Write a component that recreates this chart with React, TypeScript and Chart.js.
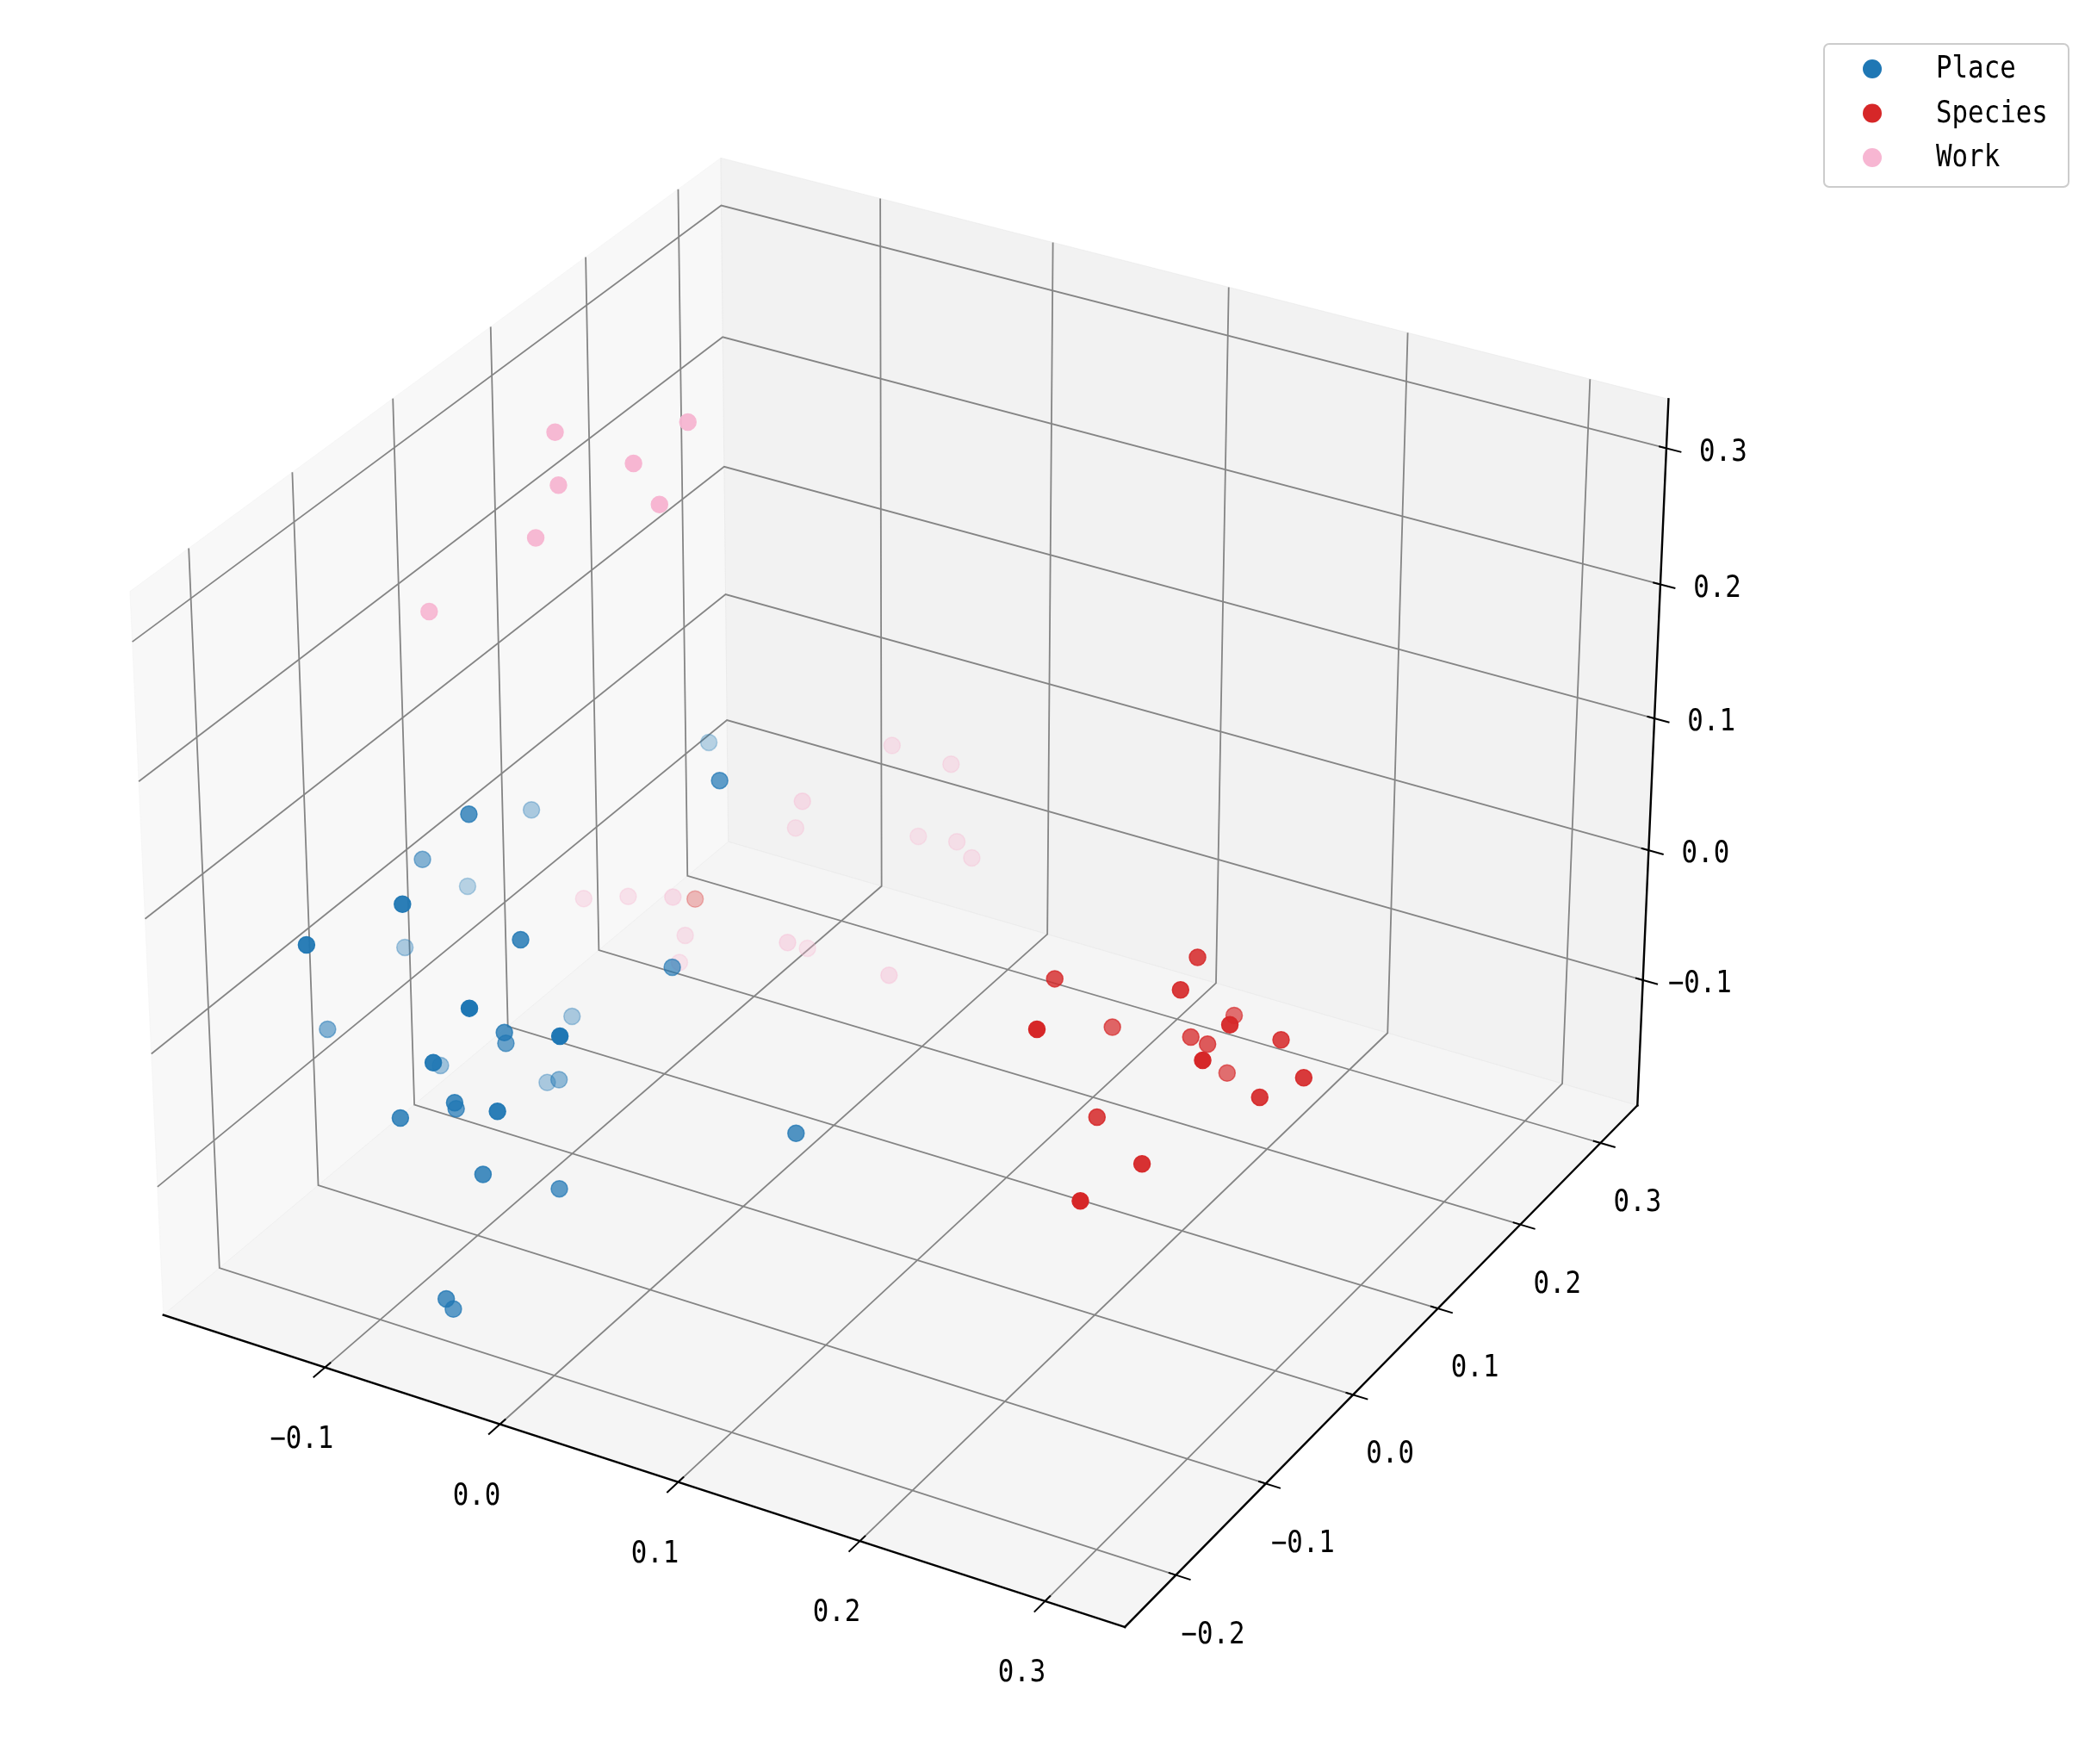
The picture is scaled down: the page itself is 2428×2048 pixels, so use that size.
import React, { useEffect, useRef } from "react";
import { Chart, registerables } from "chart.js";

Chart.register(...registerables);

// ---------------- data ----------------
const seriesNames = ["Place", "Species", "Work"];
const seriesColors = ["#1f77b4", "#d62728", "#f7b6d2"];

const X_LIMITS = [-0.194, 0.3425];
const Y_LIMITS = [-0.2555, 0.347];
const Z_LIMITS = [-0.198, 0.3357];

const xTicks = [-0.1, 0.0, 0.1, 0.2, 0.3];
const yTicks = [-0.2, -0.1, 0.0, 0.1, 0.2, 0.3];
const zTicks = [-0.1, 0.0, 0.1, 0.2, 0.3];

const placeX = [-0.0964, -0.1478, -0.1551, -0.1769, -0.0796, -0.1142, -0.1853, -0.0487, -0.0142, -0.1746, -0.0287, -0.1044, -0.0552, -0.0751, 0.0116, -0.0481, -0.1441, -0.1069, -0.0806, -0.0565, -0.0771, -0.0159, -0.0772, -0.0361, -0.0241, -0.0473, -0.054, -0.0902, -0.0064, 0.0787];
const placeY = [-0.1037, 0.0494, -0.0505, 0.032, -0.1999, -0.2349, -0.0195, -0.1383, -0.046, -0.1174, -0.2251, 0.0105, -0.1454, -0.1095, -0.2075, -0.2283, -0.0572, -0.0125, -0.0465, -0.1942, -0.1575, -0.2225, -0.2124, -0.2033, -0.1483, -0.2237, -0.2055, 0.1351, -0.0083, -0.0901];
const placeZ = [0.1246, 0.019, 0.0372, -0.0405, 0.1218, 0.0996, -0.06, 0.0708, 0.008, -0.0588, 0.0809, -0.0996, 0.0035, -0.0346, 0.0657, 0.0352, -0.1116, -0.1376, -0.1036, -0.0191, -0.055, 0.0086, -0.0276, -0.0587, -0.0996, -0.1442, -0.1666, 0.0425, 0.1279, -0.0524];

const speciesX = [-0.1189, 0.2306, 0.1624, 0.2383, 0.2098, 0.2736, 0.2059, 0.1704, 0.2156, 0.2235, 0.2774, 0.2753, 0.2139, 0.2998, 0.2839, 0.208, 0.254, 0.244];
const speciesY = [0.1707, 0.0483, 0.0277, 0.0133, 0.1363, -0.0044, -0.0794, 0.0772, 0.0737, 0.0766, -0.0426, 0.0515, 0.1205, 0.0259, 0.0096, -0.0163, -0.06, -0.1074];
const speciesZ = [-0.1106, 0.0544, 0.0241, 0.0546, -0.0511, 0.0536, 0.0695, -0.0394, -0.0267, -0.0307, 0.0527, 0.0088, -0.0836, 0.0062, -0.0045, -0.034, -0.0224, -0.0238];

const workX = [-0.1177, -0.0632, -0.07, -0.1099, -0.0542, -0.113, -0.1601, -0.0616, -0.033, -0.084, -0.094, -0.0485, -0.0204, -0.0117, -0.1791, -0.1596, -0.129, -0.1292, -0.0724, -0.0835, -0.0233, -0.1389];
const workY = [0.0291, 0.0676, 0.0232, 0.0176, 0.0206, -0.0011, -0.0281, 0.2853, 0.2977, 0.226, 0.237, 0.2901, 0.2799, 0.2802, 0.1581, 0.1714, 0.1648, 0.1781, 0.1864, 0.2297, 0.2074, 0.189];
const workZ = [0.3221, 0.3278, 0.3191, 0.2925, 0.2963, 0.2632, 0.2072, -0.0356, -0.0466, -0.0533, -0.0844, -0.1049, -0.0924, -0.102, -0.126, -0.1248, -0.1095, -0.1478, -0.1362, -0.1712, -0.1554, -0.1796];

// ---------------- 3D projection (matplotlib-like, elev 30, azim -60) ----------------
const ELEV = 30;
const AZIM = -60;
const DIST = 10;
const aspectNorm = Math.hypot(4, 4, 3);
const BOX = [4, 4, 3].map((v) => (v * 1.8294640721620434) / aspectNorm);
const er = (ELEV * Math.PI) / 180;
const ar = (AZIM * Math.PI) / 180;
const wv = [Math.cos(er) * Math.cos(ar), Math.cos(er) * Math.sin(ar), Math.sin(er)];
const uLen = Math.hypot(wv[0], wv[1]);
const uv = [-wv[1] / uLen, wv[0] / uLen, 0];
const vv = [
  wv[1] * uv[2] - wv[2] * uv[1],
  wv[2] * uv[0] - wv[0] * uv[2],
  wv[0] * uv[1] - wv[1] * uv[0],
];

function project(x: number, y: number, z: number) {
  const d = [
    ((x - X_LIMITS[0]) / (X_LIMITS[1] - X_LIMITS[0]) - 0.5) * BOX[0],
    ((y - Y_LIMITS[0]) / (Y_LIMITS[1] - Y_LIMITS[0]) - 0.5) * BOX[1],
    ((z - Z_LIMITS[0]) / (Z_LIMITS[1] - Z_LIMITS[0]) - 0.5) * BOX[2],
  ];
  const U = uv[0] * d[0] + uv[1] * d[1] + uv[2] * d[2];
  const V = vv[0] * d[0] + vv[1] * d[1] + vv[2] * d[2];
  const T = wv[0] * d[0] + wv[1] * d[1] + wv[2] * d[2];
  const den = DIST - T;
  return { px: U / den, py: V / den, depth: T };
}

// 2D view window of the projected coordinates
const VIEW_X = [-0.093768, 0.121156];
const VIEW_Y = [-0.093078, 0.088209];

function hexToRgba(hex: string, a: number) {
  const n = parseInt(hex.slice(1), 16);
  return `rgba(${(n >> 16) & 255},${(n >> 8) & 255},${n & 255},${a.toFixed(3)})`;
}

function buildDataset(label: string, color: string, xs: number[], ys: number[], zs: number[]) {
  const pts = xs.map((x, i) => project(x, ys[i], zs[i]));
  const dmin = Math.min(...pts.map((p) => p.depth));
  const dmax = Math.max(...pts.map((p) => p.depth));
  const sorted = pts.slice().sort((a, b) => a.depth - b.depth);
  const cols = sorted.map((p) => {
    const nrm = dmax > dmin ? (dmax - p.depth) / (dmax - dmin) : 0;
    return hexToRgba(color, 1 - 0.7 * nrm);
  });
  return {
    label,
    data: sorted.map((p) => ({ x: p.px, y: p.py })),
    pointBackgroundColor: cols,
    pointBorderColor: cols,
    pointBorderWidth: 1.5,
    pointRadius: 9.5,
    pointHoverRadius: 9.5,
    showLine: false,
  };
}

function fmtTick(v: number) {
  const s = v.toFixed(1);
  return s === "-0.0" ? "0.0" : s.replace("-", "\u2212");
}

const FONT = '35px "DejaVu Sans Mono", "Liberation Mono", monospace';
const TEXT_SQUEEZE = 0.88;

function drawText(ctx: CanvasRenderingContext2D, s: string, x: number, y: number, align: CanvasTextAlign) {
  ctx.save();
  ctx.translate(x, y);
  ctx.scale(TEXT_SQUEEZE, 1);
  ctx.font = FONT;
  ctx.fillStyle = "#000";
  ctx.textAlign = align;
  ctx.textBaseline = "middle";
  ctx.fillText(s, 0, 0);
  ctx.restore();
}

const axes3dPlugin = {
  id: "axes3d",
  beforeDatasetsDraw(chart: any) {
    const ctx = chart.ctx as CanvasRenderingContext2D;
    const xs = chart.scales.x;
    const ys = chart.scales.y;
    const P = (x: number, y: number, z: number) => {
      const p = project(x, y, z);
      return [xs.getPixelForValue(p.px), ys.getPixelForValue(p.py)];
    };
    const [x0, x1] = X_LIMITS;
    const [y0, y1] = Y_LIMITS;
    const [z0, z1] = Z_LIMITS;
    ctx.save();

    const poly = (pts: number[][], fill: string) => {
      ctx.beginPath();
      pts.forEach((p, i) => (i ? ctx.lineTo(p[0], p[1]) : ctx.moveTo(p[0], p[1])));
      ctx.closePath();
      ctx.fillStyle = fill;
      ctx.fill();
      ctx.strokeStyle = fill;
      ctx.lineWidth = 1;
      ctx.stroke();
    };
    // panes
    poly([P(x0, y0, z0), P(x0, y1, z0), P(x0, y1, z1), P(x0, y0, z1)], "rgba(242,242,242,0.5)");
    poly([P(x0, y1, z0), P(x1, y1, z0), P(x1, y1, z1), P(x0, y1, z1)], "rgba(230,230,230,0.5)");
    poly([P(x0, y0, z0), P(x1, y0, z0), P(x1, y1, z0), P(x0, y1, z0)], "rgba(236,236,236,0.5)");

    // grid
    const line = (pts: number[][], color: string, w: number) => {
      ctx.beginPath();
      pts.forEach((p, i) => (i ? ctx.lineTo(p[0], p[1]) : ctx.moveTo(p[0], p[1])));
      ctx.strokeStyle = color;
      ctx.lineWidth = w;
      ctx.stroke();
    };
    const gc = "#858585";
    const gw = 1.8;
    xTicks.forEach((v) => line([P(v, y0, z0), P(v, y1, z0), P(v, y1, z1)], gc, gw));
    yTicks.forEach((v) => line([P(x1, v, z0), P(x0, v, z0), P(x0, v, z1)], gc, gw));
    zTicks.forEach((v) => line([P(x0, y0, v), P(x0, y1, v), P(x1, y1, v)], gc, gw));

    // axis lines
    ctx.lineCap = "square";
    line([P(x0, y0, z0), P(x1, y0, z0)], "#000", 2.4);
    line([P(x1, y0, z0), P(x1, y1, z0)], "#000", 2.4);
    line([P(x1, y1, z0), P(x1, y1, z1)], "#000", 2.4);
    ctx.lineCap = "butt";

    // ticks and labels
    const tick = (a: number[], b: number[], off: number[], label: string) => {
      const dx = b[0] - a[0];
      const dy = b[1] - a[1];
      const L = Math.hypot(dx, dy) || 1;
      const ux = dx / L;
      const uy = dy / L;
      line([[a[0] - 9 * ux, a[1] - 9 * uy], [a[0] + 18 * ux, a[1] + 18 * uy]], "#000", 2);
      drawText(ctx, label, a[0] + off[0], a[1] + off[1], "center");
    };
    const ddx = (x1 - x0) * 0.05;
    const ddy = (y1 - y0) * 0.05;
    xTicks.forEach((v) => tick(P(v, y0, z0), P(v, y0 - ddy, z0), [-27, 84], fmtTick(v)));
    yTicks.forEach((v) => tick(P(x1, v, z0), P(x1 + ddx, v, z0), [43, 70], fmtTick(v)));
    zTicks.forEach((v) => tick(P(x1, y1, v), P(x1 + ddx, y1, v), [66, 5], fmtTick(v)));

    ctx.restore();
  },
  afterDraw(chart: any) {
    const ctx = chart.ctx as CanvasRenderingContext2D;
    ctx.save();
    const bx = 2118;
    const by = 51;
    const bw = 284;
    const bh = 166;
    ctx.beginPath();
    (ctx as any).roundRect(bx, by, bw, bh, 6);
    ctx.fillStyle = "rgba(255,255,255,0.8)";
    ctx.fill();
    ctx.strokeStyle = "#cccccc";
    ctx.lineWidth = 2;
    ctx.stroke();
    seriesNames.forEach((name, i) => {
      const cy = 80 + i * 51.5;
      ctx.beginPath();
      ctx.arc(2174, cy, 11, 0, Math.PI * 2);
      ctx.fillStyle = seriesColors[i];
      ctx.fill();
      drawText(ctx, name, 2248, cy + 1, "left");
    });
    ctx.restore();
  },
};

export default function App() {
  const ref = useRef<HTMLCanvasElement | null>(null);
  useEffect(() => {
    if (!ref.current) return;
    const datasets = [
      buildDataset(seriesNames[0], seriesColors[0], placeX, placeY, placeZ),
      buildDataset(seriesNames[1], seriesColors[1], speciesX, speciesY, speciesZ),
      buildDataset(seriesNames[2], seriesColors[2], workX, workY, workZ),
    ];
    const chart = new Chart(ref.current, {
      type: "scatter",
      data: { datasets },
      options: {
        responsive: false,
        animation: false,
        devicePixelRatio: 1,
        events: [],
        layout: { padding: 0 },
        scales: {
          x: { type: "linear", min: VIEW_X[0], max: VIEW_X[1], display: false },
          y: { type: "linear", min: VIEW_Y[0], max: VIEW_Y[1], display: false },
        },
        plugins: { legend: { display: false }, tooltip: { enabled: false } },
      },
      plugins: [axes3dPlugin],
    } as any);
    return () => chart.destroy();
  }, []);
  return (
    <div style={{ position: "absolute", left: 0, top: 0, width: 2428, height: 2048, background: "#fff" }}>
      <canvas ref={ref} width={2428} height={2048} style={{ display: "block", width: 2428, height: 2048 }} />
    </div>
  );
}
